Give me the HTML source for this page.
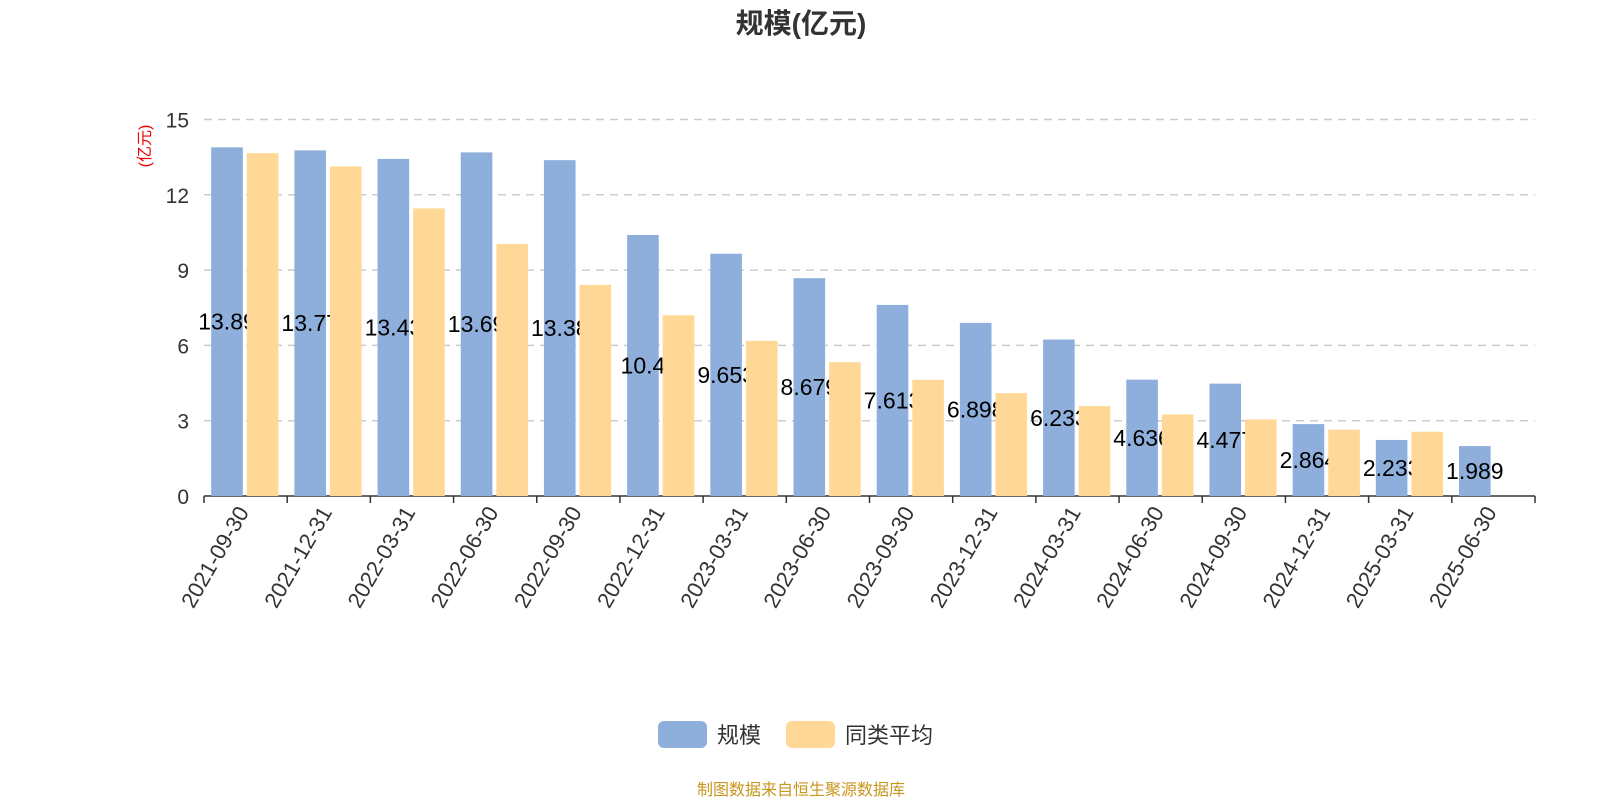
<!DOCTYPE html>
<html><head><meta charset="utf-8"><style>
body{margin:0;background:#fff;}
svg text{font-family:"Liberation Sans","Noto Sans CJK SC",sans-serif;}
</style></head><body>
<svg id="c" width="1600" height="800" xmlns="http://www.w3.org/2000/svg">
<text x="801" y="33" text-anchor="middle" font-size="28" font-weight="bold" fill="#333">规模(亿元)</text>
<text transform="translate(150,146) rotate(-90)" text-anchor="middle" font-size="16" fill="#e00">(亿元)</text>
<g id="grid"></g><g id="bars"></g>
<g>
<rect x="658" y="721" width="49" height="27" rx="6" fill="#8eaedb"/>
<text x="717" y="743" font-size="22" fill="#333">规模</text>
<rect x="786" y="721" width="49" height="27" rx="6" fill="#ffd898"/>
<text x="845" y="743" font-size="22" fill="#333">同类平均</text>
</g>
<text x="801" y="795" text-anchor="middle" font-size="16" fill="#c8961e">制图数据来自恒生聚源数据库</text>
</svg>
<script>
const categories=["2021-09-30","2021-12-31","2022-03-31","2022-06-30","2022-09-30","2022-12-31","2023-03-31","2023-06-30","2023-09-30","2023-12-31","2024-03-31","2024-06-30","2024-09-30","2024-12-31","2025-03-31","2025-06-30"];
const scaleValues=[13.89,13.77,13.43,13.69,13.38,10.40,9.653,8.679,7.613,6.898,6.233,4.636,4.477,2.864,2.233,1.989];
const avgValues=[13.66,13.13,11.46,10.04,8.41,7.2,6.18,5.33,4.63,4.1,3.58,3.25,3.05,2.64,2.56,null];
const yTicks=[0,3,6,9,12,15];
const NS="http://www.w3.org/2000/svg";
const X0=204,X1=1535,Y0=496,Y1=119.5,YMAX=15;
const bw=(X1-X0)/categories.length;
const y=v=>Y0-(v/YMAX)*(Y0-Y1);
const xc=i=>X0+i*bw;
function mk(tag,attrs,parent){const e=document.createElementNS(NS,tag);for(const k in attrs)e.setAttribute(k,attrs[k]);parent.appendChild(e);return e;}
const grid=document.getElementById('grid'),bars=document.getElementById('bars');
yTicks.forEach(t=>{
 if(t>0){const l=mk('line',{x1:X0,x2:X1,y1:y(t),y2:y(t),stroke:'#ccc','stroke-width':1.5,'stroke-dasharray':'8,6'},grid);
 
 }
 const tx=mk('text',{x:189,y:y(t)+8,'text-anchor':'end','font-size':21,fill:'#333'},grid);tx.textContent=t;
 
 
});
const ax=mk('line',{x1:X0,x2:X1,y1:Y0,y2:Y0,stroke:'#333','stroke-width':1.5},grid);


for(let i=0;i<=categories.length;i++){const tk=mk('line',{x1:xc(i),x2:xc(i),y1:Y0,y2:Y0+7,stroke:'#333','stroke-width':1.5},grid);
 
 }
categories.forEach((c,i)=>{
 const bx=xc(i)+7.2,w=31.6;
 const b=mk('rect',{x:bx,y:y(scaleValues[i]),width:w,height:Y0-y(scaleValues[i]),fill:'#8eaedb'},bars);
 
 
 const lb=mk('text',{x:bx+w/2,y:(y(scaleValues[i])+Y0)/2+8,'text-anchor':'middle','font-size':23,fill:'#000'},bars);lb.textContent=scaleValues[i];
 
 
 if(avgValues[i]!=null){const a=mk('rect',{x:bx+w+4,y:y(avgValues[i]),width:w,height:Y0-y(avgValues[i]),fill:'#ffd898'},bars);
 
 }
 const cx=xc(i)+bw/2;
 const xl=mk('text',{transform:`translate(${cx+4},${Y0+16}) rotate(-60)`,'text-anchor':'end','font-size':22,fill:'#333'},bars);xl.textContent=c;
 
 
});
</script>
</body></html>
